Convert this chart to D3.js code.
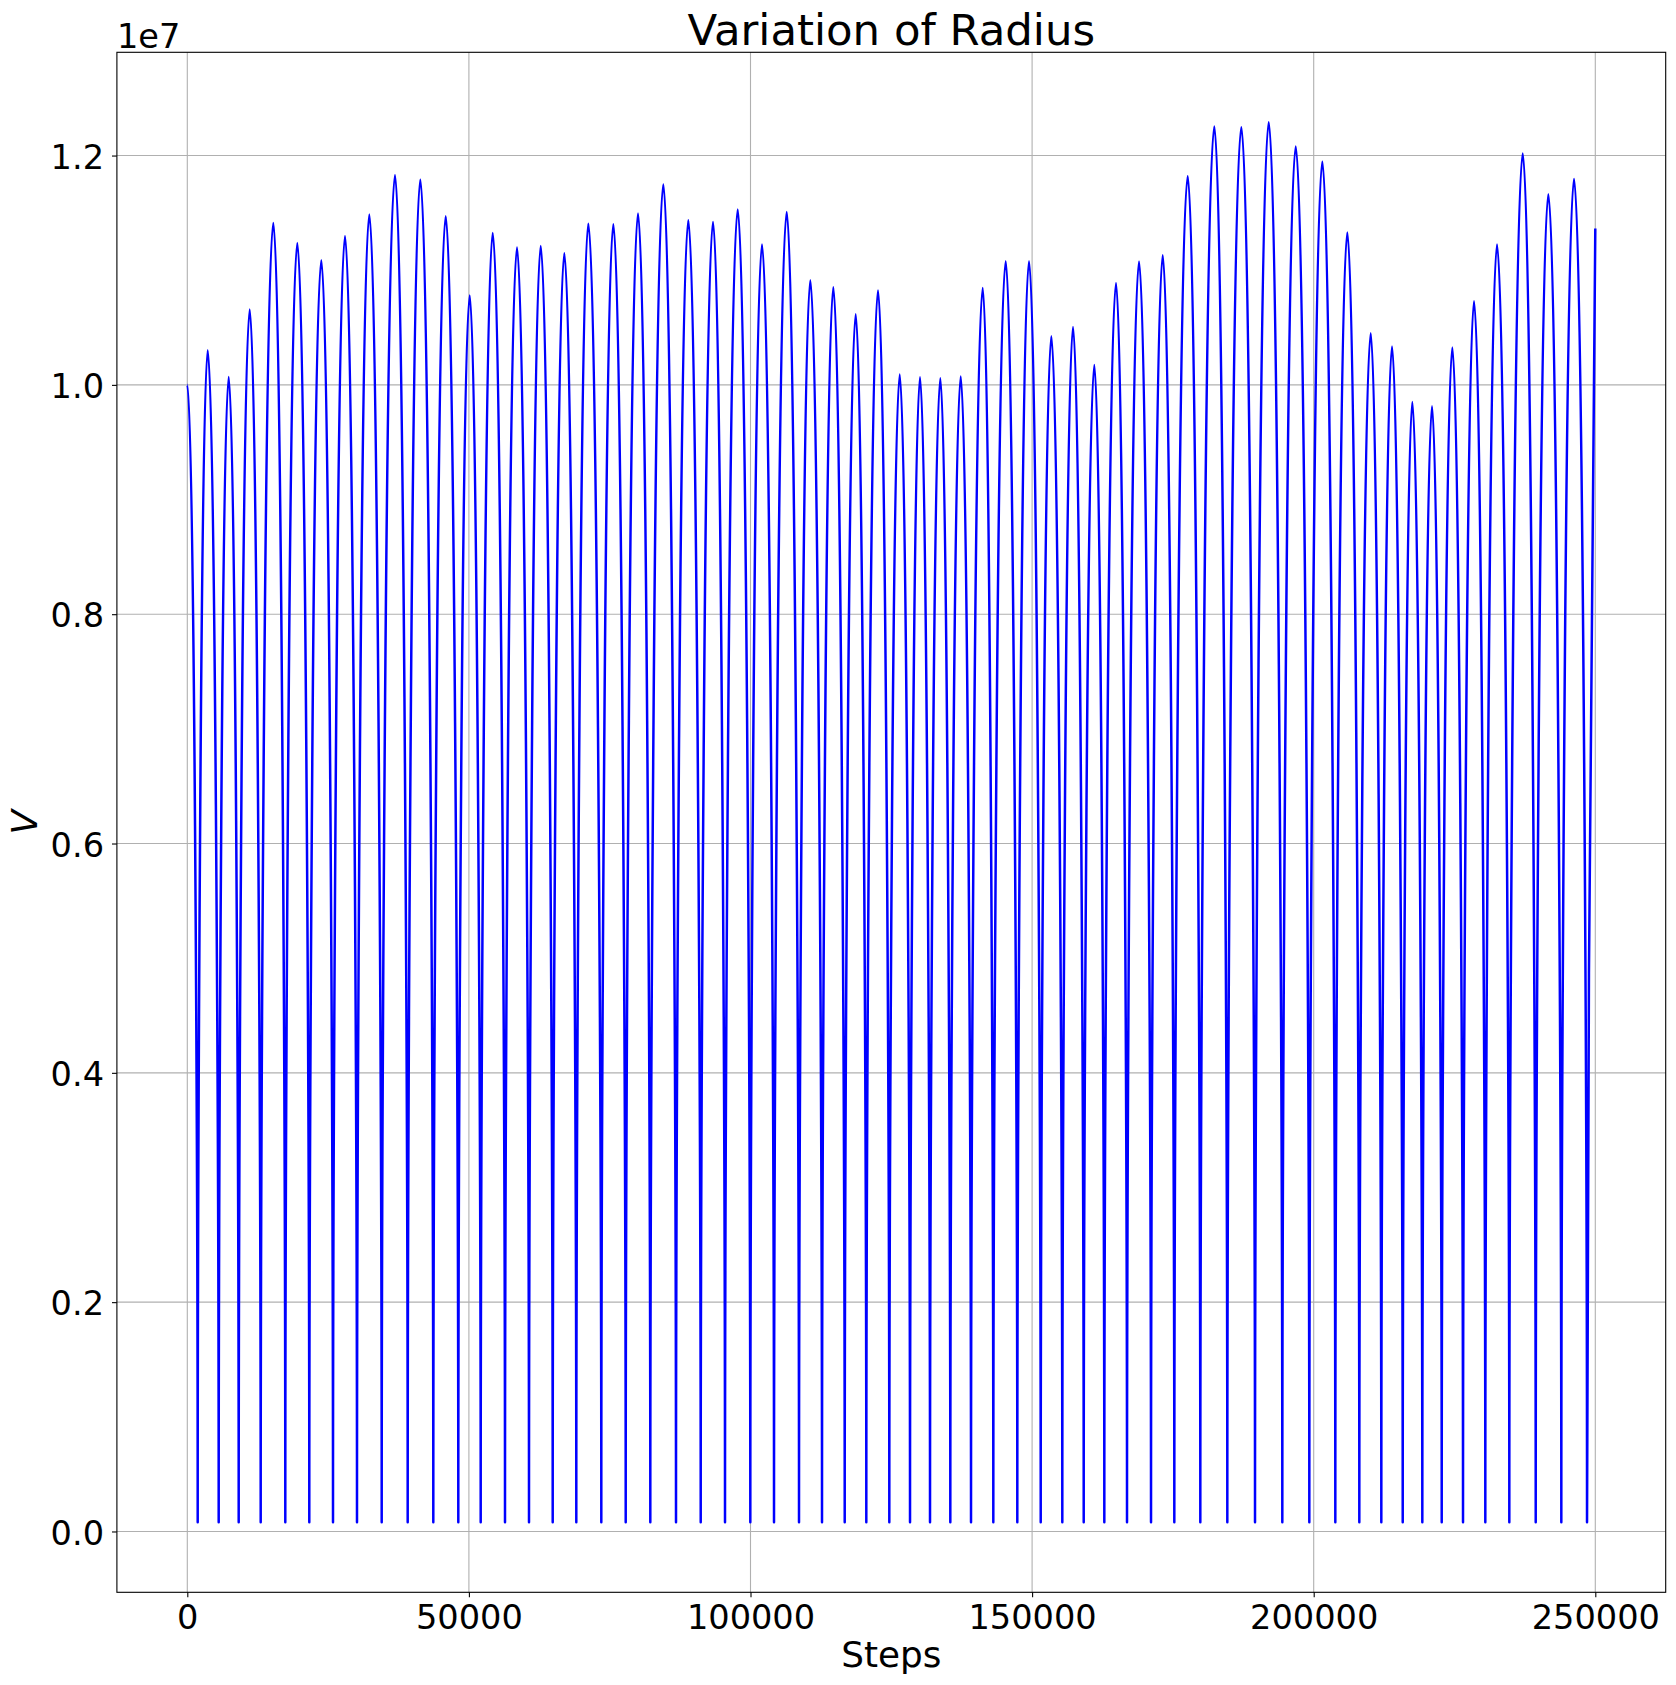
<!DOCTYPE html>
<html>
<head>
<meta charset="utf-8">
<script src="https://cdn.jsdelivr.net/npm/d3@7"></script>
<style>
  html, body { margin: 0; padding: 0; background: #fff; }
  svg { display: block; font-family: "DejaVu Sans", sans-serif; }
</style>
</head>
<body>
<div id="chart"></div>
<script>
// ---------------- data ----------------
const startPoint = { step: 0, value: 1.0e7 };
const endPoint = { step: 250000, value: 1.1363e7 };
const troughValue = 0.008e7;

const troughSteps = [1847, 5575, 9127, 13033, 17401, 21662, 25871, 30132, 34518, 39134,
  43680, 48119, 52096, 56411, 60672, 64881, 69071, 73510, 77843, 82211,
  86774, 91160, 95475, 99967, 104175, 108614, 112698, 116729, 120564, 124648,
  128324, 131875, 135479, 139155, 143114, 147375, 151530, 155365, 159165, 162823,
  166853, 171115, 175252, 179869, 184663, 189581, 194429, 199223, 203839, 208101,
  212007, 215807, 219287, 222731, 226513, 230472, 234734, 239421, 243967, 248531];

const peakSteps = [3622, 7351, 11080, 15270, 19532, 23793, 28001, 32316, 36879, 41372,
  45882, 50144, 54227, 58542, 62751, 66941, 71203, 75641, 80027, 84519,
  88958, 93344, 97728, 102043, 106429, 110620, 114704, 118681, 122641, 126494,
  130098, 133703, 137325, 141231, 145316, 149453, 153413, 157266, 161048, 164901,
  168985, 173193, 177632, 182355, 187149, 192014, 196808, 201531, 205970, 210125,
  213907, 217510, 221008, 224613, 228466, 232550, 237113, 241659, 246222];

const peakValues = [1.0302e7, 1.0069e7, 1.0657e7, 1.1412e7, 1.1237e7, 1.1087e7, 1.1296e7, 1.1485e7, 1.1828e7, 1.1790e7,
  1.1470e7, 1.0779e7, 1.1325e7, 1.1197e7, 1.1211e7, 1.1148e7, 1.1406e7, 1.1400e7, 1.1494e7, 1.1747e7,
  1.1435e7, 1.1421e7, 1.1529e7, 1.1224e7, 1.1508e7, 1.0912e7, 1.0851e7, 1.0616e7, 1.0822e7, 1.0090e7,
  1.0066e7, 1.0058e7, 1.0072e7, 1.0845e7, 1.1078e7, 1.1078e7, 1.0424e7, 1.0505e7, 1.0174e7, 1.0889e7,
  1.1075e7, 1.1130e7, 1.1819e7, 1.2253e7, 1.2247e7, 1.2290e7, 1.2078e7, 1.1947e7, 1.1328e7, 1.0450e7,
  1.0334e7, 0.9851e7, 0.9813e7, 1.0325e7, 1.0729e7, 1.1224e7, 1.2017e7, 1.1662e7, 1.1796e7];

const xTicks = [0, 50000, 100000, 150000, 200000, 250000];
const yTicks = [0, 0.2e7, 0.4e7, 0.6e7, 0.8e7, 1.0e7, 1.2e7];
const yTickLabels = ["0.0", "0.2", "0.4", "0.6", "0.8", "1.0", "1.2"];

const titleText = "Variation of Radius";
const xLabelText = "Steps";
const yLabelText = "V";
const offsetText = "1e7";

// ---------------- build series ----------------
const series = [startPoint];
troughSteps.forEach((s, i) => {
  series.push({ step: s, value: troughValue });
  if (i < peakSteps.length) series.push({ step: peakSteps[i], value: peakValues[i] });
});
series.push(endPoint);

// ---------------- layout ----------------
const W = 1676, H = 1685;
const plot = { left: 116.9, right: 1665.7, top: 52.3, bottom: 1592.3 };

const xExt = d3.extent(series, d => d.step);
const yExt = d3.extent(series, d => d.value);
const xPad = (xExt[1] - xExt[0]) * 0.05;
const yPad = (yExt[1] - yExt[0]) * 0.05;

const x = d3.scaleLinear().domain([xExt[0] - xPad, xExt[1] + xPad]).range([plot.left, plot.right]);
const y = d3.scaleLinear().domain([yExt[0] - yPad, yExt[1] + yPad]).range([plot.bottom, plot.top]);

const svg = d3.select("#chart").append("svg").attr("width", W).attr("height", H);
svg.append("rect").attr("width", W).attr("height", H).attr("fill", "#fff");

// grid
const grid = svg.append("g").attr("stroke", "#b0b0b0").attr("stroke-width", 1.1);
grid.selectAll("line.gx").data(xTicks).join("line")
  .attr("x1", d => x(d)).attr("x2", d => x(d))
  .attr("y1", plot.top).attr("y2", plot.bottom);
grid.selectAll("line.gy").data(yTicks).join("line")
  .attr("x1", plot.left).attr("x2", plot.right)
  .attr("y1", d => y(d)).attr("y2", d => y(d));

// orbit-like curve: horizontal tangent at peaks, vertical cusp at troughs
const A = 0.3, B = 0.65;
function curveOrbit(context) {
  let pts = [];
  return {
    areaStart() {}, areaEnd() {},
    lineStart() { pts = []; },
    point(px, py) { pts.push([+px, +py]); },
    lineEnd() {
      const n = pts.length;
      if (!n) return;
      context.moveTo(pts[0][0], pts[0][1]);
      for (let i = 1; i < n; i++) {
        const [x0, y0] = pts[i - 1], [x1, y1] = pts[i];
        const dx = x1 - x0, dy = y1 - y0;
        const endIsExt = i < n - 1;
        let c1, c2;
        if (dy < 0) { // rising
          c1 = [x0, y0 + A * dy];
          c2 = endIsExt ? [x1 - B * dx, y1] : [x1 - 0.3 * dx, y1 - 0.07 * dy];
        } else { // falling
          c1 = [x0 + B * dx, y0];
          c2 = [x1, y1 - A * dy];
        }
        context.bezierCurveTo(c1[0], c1[1], c2[0], c2[1], x1, y1);
      }
    }
  };
}

const line = d3.line().x(d => x(d.step)).y(d => y(d.value)).curve(curveOrbit);
svg.append("path").datum(series)
  .attr("d", line)
  .attr("fill", "none")
  .attr("stroke", "#0000ff")
  .attr("stroke-width", 2.5)
  .attr("stroke-linejoin", "round")
  .attr("stroke-linecap", "butt");

// axes
const xAxis = d3.axisBottom(x).tickValues(xTicks).tickSize(4.9).tickPadding(9).tickFormat(d3.format("d"));
const yAxis = d3.axisLeft(y).tickValues(yTicks).tickSize(4.9).tickPadding(8).tickFormat((d, i) => yTickLabels[i]);

const gx = svg.append("g").attr("transform", `translate(0,${plot.bottom})`).call(xAxis);
const gy = svg.append("g").attr("transform", `translate(${plot.left},0)`).call(yAxis);
[gx, gy].forEach(g => {
  g.select(".domain").remove();
  g.selectAll(".tick line").attr("stroke", "#000").attr("stroke-width", 1.1);
  g.selectAll(".tick text").attr("fill", "#000").attr("font-size", 33.6)
    .attr("font-family", "DejaVu Sans, sans-serif");
});
gx.selectAll(".tick text").attr("dy", null).attr("y", 36.8);
gy.selectAll(".tick text").attr("dy", null).attr("y", 12.6);

// spines
svg.append("rect")
  .attr("x", plot.left).attr("y", plot.top)
  .attr("width", plot.right - plot.left).attr("height", plot.bottom - plot.top)
  .attr("fill", "none").attr("stroke", "#000").attr("stroke-width", 1.1);

// texts
svg.append("text").attr("x", (plot.left + plot.right) / 2).attr("y", 44.5)
  .attr("text-anchor", "middle").attr("font-size", 43.4).text(titleText);
svg.append("text").attr("x", (plot.left + plot.right) / 2).attr("y", 1667)
  .attr("text-anchor", "middle").attr("font-size", 35.8).text(xLabelText);
svg.append("text").attr("transform", `translate(37,${(plot.top + plot.bottom) / 2}) rotate(-90)`)
  .attr("text-anchor", "middle").attr("font-size", 35.8).attr("font-style", "italic").text(yLabelText);
svg.append("text").attr("x", plot.left).attr("y", 47.5)
  .attr("font-size", 33.6).text(offsetText);
</script>
</body>
</html>
